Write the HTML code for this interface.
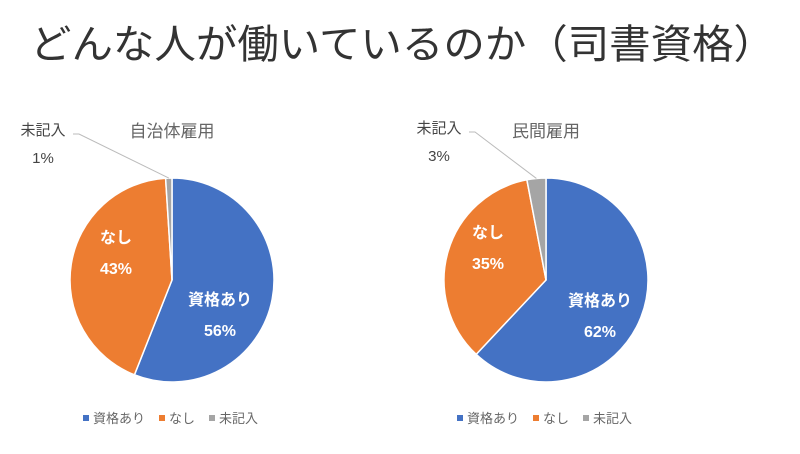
<!DOCTYPE html>
<html><head><meta charset="utf-8">
<style>
html,body{margin:0;padding:0;background:#fff;}
body{width:800px;height:449px;overflow:hidden;font-family:"Liberation Sans","Noto Sans CJK JP",sans-serif;}
</style></head>
<body>
<svg id="s" width="800" height="449" viewBox="0 0 800 449" xmlns="http://www.w3.org/2000/svg" font-family="Liberation Sans, Noto Sans CJK JP, sans-serif">
<text x="30" y="58" font-size="40" fill="#333" textLength="745" lengthAdjust="spacingAndGlyphs">どんな人が働いているのか（司書資格）</text>
<text x="172" y="137" font-size="17" fill="#666" text-anchor="middle">自治体雇用</text>
<text x="546" y="137" font-size="17" fill="#666" text-anchor="middle">民間雇用</text>
<g id="charts"></g>
</svg>
<script>
const categories = ["資格あり","なし","未記入"];
const leftValues = [56,43,1];
const rightValues = [62,35,3];
const colors = ["#4472C4","#ED7D31","#A5A5A5"];
// layout: label offsets from pie centre (not data)
const leftLabelOffsets = [[48,25],[-56,-37]];
const rightLabelOffsets = [[54,26],[-58,-42]];
const NS="http://www.w3.org/2000/svg";
const g=document.getElementById("charts");
function mk(tag,attrs){const e=document.createElementNS(NS,tag);for(const k in attrs)e.setAttribute(k,attrs[k]);return e;}
function pt(cx,cy,r,frac){const a=frac*2*Math.PI-Math.PI/2;return [cx+r*Math.cos(a),cy+r*Math.sin(a)];}
function drawPie(prefix,values,cx,cy,r,calloutPos,legendX,offs){
  const total=values.reduce((a,b)=>a+b,0);
  let acc=0;
  values.forEach((v,i)=>{
    const f0=acc/total,f1=(acc+v)/total;acc+=v;
    const p0=pt(cx,cy,r,f0),p1=pt(cx,cy,r,f1);
    const large=(f1-f0)>0.5?1:0;
    const path=mk("path",{d:`M${cx},${cy}L${p0[0]},${p0[1]}A${r},${r} 0 ${large} 1 ${p1[0]},${p1[1]}Z`,fill:colors[i],stroke:"#fff","stroke-width":1.5});
    
    
    g.appendChild(path);
    const mid=(f0+f1)/2;
    if(i<2){
      const lx=cx+offs[i][0], ly=cy+offs[i][1];
      const t1=mk("text",{x:lx,y:ly,"font-size":16,"font-weight":"bold",fill:"#fff","text-anchor":"middle"});
      t1.textContent=categories[i];
      
      
      g.appendChild(t1);
      const t2=mk("text",{x:lx,y:ly+31,"font-size":16,"font-weight":"bold",fill:"#fff","text-anchor":"middle"});
      t2.textContent=Math.round(v/total*100)+"%";
      
      
      g.appendChild(t2);
    } else {
      const ep=pt(cx,cy,r,mid);
      const ln=mk("polyline",{points:`${ep[0]},${ep[1]} ${calloutPos[0]+36},${calloutPos[1]-1} ${calloutPos[0]+30},${calloutPos[1]-1}`,fill:"none",stroke:"#bbb","stroke-width":1});
      
      
      g.appendChild(ln);
      const t1=mk("text",{x:calloutPos[0],y:calloutPos[1],"font-size":15,fill:"#444","text-anchor":"middle"});
      t1.textContent=categories[i];
      
      
      g.appendChild(t1);
      const t2=mk("text",{x:calloutPos[0],y:calloutPos[1]+28,"font-size":15,fill:"#444","text-anchor":"middle"});
      t2.textContent=Math.round(v/total*100)+"%";
      
      
      g.appendChild(t2);
    }
  });
  let x=legendX;
  categories.forEach((c,i)=>{
    const sq=mk("rect",{x:x,y:415,width:6,height:6,fill:colors[i]});
    
    
    g.appendChild(sq);
    const t=mk("text",{x:x+10,y:423,"font-size":13,fill:"#666"});
    t.textContent=c;
    
    
    g.appendChild(t);
    x+=10+c.length*13+14;
  });
}
drawPie("left",leftValues,172,280,102,[43,135],83,leftLabelOffsets);
drawPie("right",rightValues,546,280,102,[439,133],457,rightLabelOffsets);
</script>
</body></html>
